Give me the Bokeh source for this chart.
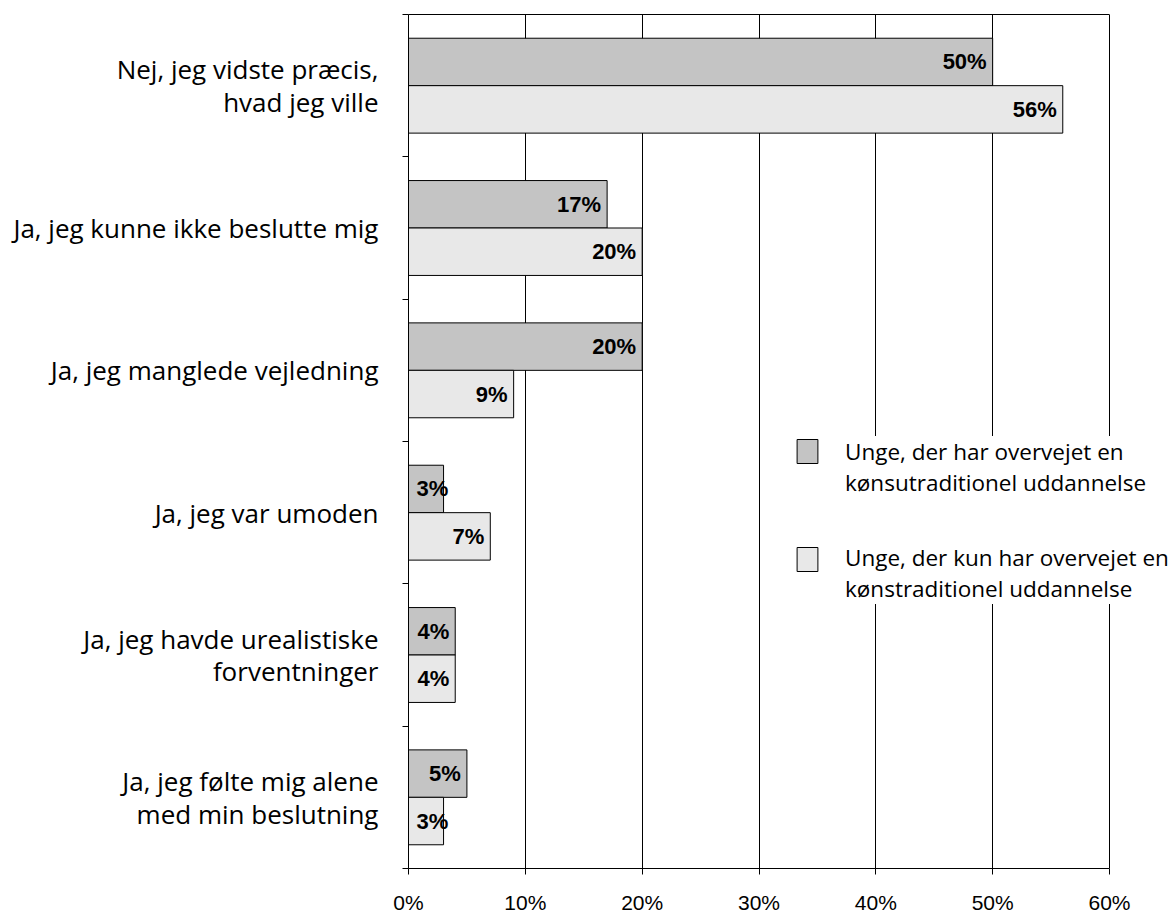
from bokeh.plotting import figure
from bokeh.models import (ColumnDataSource, FixedTicker, Range1d, Legend, LegendItem,
                          LinearAxis)
from bokeh.core.properties import value
from bokeh.embed import file_html
from bokeh.resources import INLINE

categories = [
    "Nej, jeg vidste præcis,\nhvad jeg ville",
    "Ja, jeg kunne ikke beslutte mig",
    "Ja, jeg manglede vejledning",
    "Ja, jeg var umoden",
    "Ja, jeg havde urealistiske\nforventninger",
    "Ja, jeg følte mig alene\nmed min beslutning",
]
series1_name = "Unge, der har overvejet en\nkønsutraditionel uddannelse"
series2_name = "Unge, der kun har overvejet en\nkønstraditionel uddannelse"
series1 = [50, 17, 20, 3, 4, 5]
series2 = [56, 20, 9, 7, 4, 3]
x_ticks = [0, 10, 20, 30, 40, 50, 60]
x_tick_labels = ["0%", "10%", "20%", "30%", "40%", "50%", "60%"]

n = len(categories)
centers = [i + 0.5 for i in range(n)]
bar_h = 1.0 / 3.0

src1 = ColumnDataSource(dict(y=[c - bar_h / 2 for c in centers], x=series1,
                             lbl=[f"{v}%" for v in series1]))
src2 = ColumnDataSource(dict(y=[c + bar_h / 2 for c in centers], x=series2,
                             lbl=[f"{v}%" for v in series2]))

# frame spans 408..1169 px; the 0-60 % scale occupies 408..1109 px
x_max = 60
x_end = x_max * (1169 - 408) / (1109 - 408)

p = figure(width=1169, height=916, output_backend="svg", toolbar_location=None,
           x_range=Range1d(0, x_end), y_range=Range1d(n, 0),
           min_border_left=408, min_border_right=0, min_border_top=14,
           min_border_bottom=48)

r1 = p.hbar(y="y", right="x", left=0, height=bar_h, source=src1,
            fill_color="#C4C4C4", line_color="black", line_width=1)
r2 = p.hbar(y="y", right="x", left=0, height=bar_h, source=src2,
            fill_color="#E8E8E8", line_color="black", line_width=1)
# transparent twins used only to carry the legend labels
t1 = p.hbar(y="y", right="x", left=0, height=bar_h, source=src1,
            fill_alpha=0, line_alpha=0)
t2 = p.hbar(y="y", right="x", left=0, height=bar_h, source=src2,
            fill_alpha=0, line_alpha=0)

# value labels
for src, vals in ((src1, series1), (src2, series2)):
    big = [i for i, v in enumerate(vals) if v > 3]
    small = [i for i, v in enumerate(vals) if v <= 3]
    d = src.data
    if big:
        s = ColumnDataSource(dict(x=[d["x"][i] for i in big], y=[d["y"][i] for i in big],
                                  t=[d["lbl"][i] for i in big]))
        p.text(x="x", y="y", text="t", source=s, text_align="right",
               text_baseline="middle", x_offset=-6,
               text_font=value("Liberation Sans"), text_font_style="bold",
               text_font_size="22px", text_color="black")
    if small:
        s = ColumnDataSource(dict(x=[0 for i in small], y=[d["y"][i] for i in small],
                                  t=[d["lbl"][i] for i in small]))
        p.text(x="x", y="y", text="t", source=s, text_align="left",
               text_baseline="middle", x_offset=8,
               text_font=value("Liberation Sans"), text_font_style="bold",
               text_font_size="22px", text_color="black")

# x axis
p.xaxis.ticker = FixedTicker(ticks=x_ticks)
p.xaxis.bounds = (0, x_max)
p.xaxis.major_label_overrides = {t: l for t, l in zip(x_ticks, x_tick_labels)}
p.xaxis.major_label_text_font = "Liberation Sans"
p.xaxis.major_label_text_font_size = "21px"
p.xaxis.major_label_text_color = "black"
p.xaxis.major_tick_out = 6
p.xaxis.major_tick_in = 0
p.xaxis.minor_tick_line_color = None
p.xaxis.axis_line_color = "black"
p.xaxis.major_tick_line_color = "black"
p.xaxis.major_label_standoff = 16

# top border line (0-60 %)
top = LinearAxis(ticker=FixedTicker(ticks=[]), bounds=(0, x_max),
                 major_label_text_font_size="0px", major_tick_out=0,
                 major_tick_in=0, minor_tick_out=0, minor_tick_in=0,
                 axis_line_color="black")
p.add_layout(top, "above")

# y axis
p.yaxis.ticker = FixedTicker(ticks=centers, minor_ticks=list(range(n + 1)))
p.yaxis.major_label_overrides = {c: l for c, l in zip(centers, categories)}
p.yaxis.major_label_text_font = "Open Sans"
p.yaxis.major_label_text_font_size = "26px"
p.yaxis.major_label_text_color = "black"
p.yaxis.major_label_text_line_height = 0.9
p.yaxis.major_tick_line_color = None
p.yaxis.major_tick_out = 0
p.yaxis.major_tick_in = 0
p.yaxis.minor_tick_out = 6
p.yaxis.minor_tick_in = 0
p.yaxis.minor_tick_line_color = "black"
p.yaxis.axis_line_color = "black"
p.yaxis.major_label_standoff = 24

p.xgrid.ticker = FixedTicker(ticks=x_ticks)
p.xgrid.grid_line_color = "black"
p.xgrid.grid_line_alpha = 1
p.ygrid.grid_line_color = None
p.outline_line_color = None

# legend text with white background
legend_txt = Legend(items=[LegendItem(label=series1_name, renderers=[t1]),
                           LegendItem(label=series2_name, renderers=[t2])],
                    location=(387, 264))
legend_txt.border_line_color = None
legend_txt.background_fill_color = "white"
legend_txt.background_fill_alpha = 1
legend_txt.padding = 31
legend_txt.margin = 0
legend_txt.spacing = 44
legend_txt.glyph_width = 26
legend_txt.glyph_height = 30
legend_txt.label_standoff = 24
legend_txt.label_text_font = "Open Sans"
legend_txt.label_text_font_size = "22.5px"
legend_txt.label_text_color = "black"
p.add_layout(legend_txt)

# legend swatches
legend_sw = Legend(items=[LegendItem(label=" ", renderers=[r1]),
                          LegendItem(label=" ", renderers=[r2])],
                   location=(386, 294))
legend_sw.border_line_color = None
legend_sw.background_fill_alpha = 0
legend_sw.padding = 0
legend_sw.margin = 0
legend_sw.spacing = 78
legend_sw.glyph_width = 26
legend_sw.glyph_height = 30
legend_sw.label_standoff = 0
legend_sw.label_text_font_size = "8px"
legend_sw.label_height = 8
p.add_layout(legend_sw)

open("out.html", "w").write(file_html(p, INLINE))
